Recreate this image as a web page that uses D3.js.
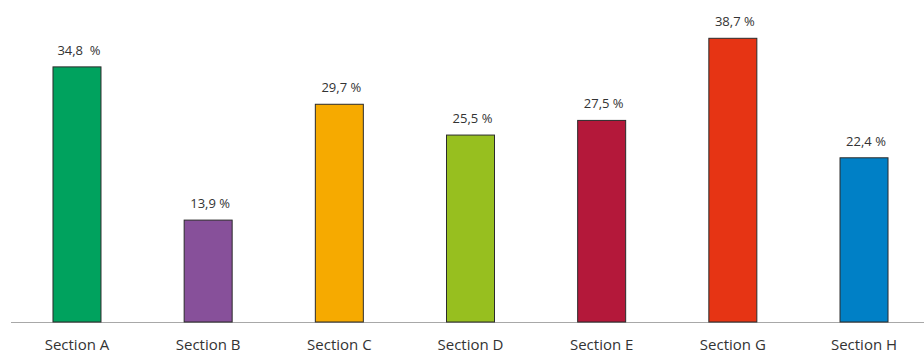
<!DOCTYPE html>
<html>
<head>
<meta charset="utf-8">
<script src="https://cdn.jsdelivr.net/npm/d3@7"></script>
<style>
  body { margin: 0; background: #fff; }
  text { font-family: "Open Sans", sans-serif; fill: #333; }
</style>
</head>
<body>
<div id="chart"></div>
<script>
// data
var sections = ["Section A", "Section B", "Section C", "Section D", "Section E", "Section G", "Section H"];
var values = [34.8, 13.9, 29.7, 25.5, 27.5, 38.7, 22.4];
var valueLabels = ["34,8  %", "13,9 %", "29,7 %", "25,5 %", "27,5 %", "38,7 %", "22,4 %"];
var colors = ["#00a25e", "#87509a", "#f6aa00", "#97bf1f", "#b4183a", "#e63414", "#0080c6"];

var width = 924, height = 354,
    baseY = 322,
    barW = 48;

var svg = d3.select("#chart").append("svg")
    .attr("width", width)
    .attr("height", height);

var step = (929.6 - 11.4) / sections.length,
    pad = 1 - barW / step;

var x = d3.scaleBand()
    .domain(sections)
    .range([11.4, 929.6])
    .paddingInner(pad)
    .paddingOuter(pad / 2);

var y = d3.scaleLinear()
    .domain([0, 38.7])
    .range([baseY, 38.3]);

var data = sections.map(function(s, i) {
  return {name: s, value: values[i], label: valueLabels[i], color: colors[i]};
});

// baseline
svg.append("line")
    .attr("x1", 11).attr("x2", width)
    .attr("y1", baseY + 0.5).attr("y2", baseY + 0.5)
    .style("stroke", "#a8a8a8")
    .style("stroke-width", 1.2);

// bars
svg.selectAll("rect.bar").data(data)
  .enter().append("rect")
    .attr("class", "bar")
    .attr("x", function(d) { return x(d.name); })
    .attr("y", function(d) { return y(d.value); })
    .attr("width", x.bandwidth())
    .attr("height", function(d) { return baseY - y(d.value); })
    .style("fill", function(d) { return d.color; })
    .style("stroke", "#2b2b2b")
    .style("stroke-width", 1);

// value labels
svg.selectAll("text.val").data(data)
  .enter().append("text")
    .attr("class", "val")
    .attr("x", function(d) { return x(d.name) + x.bandwidth() / 2 + 2; })
    .attr("y", function(d) { return y(d.value) - 12; })
    .attr("text-anchor", "middle")
    .style("font-size", "13px")
    .style("white-space", "pre")
    .text(function(d) { return d.label; });

// category labels (kept just inside the bottom edge)
svg.selectAll("text.cat").data(data)
  .enter().append("text")
    .attr("class", "cat")
    .attr("x", function(d) { return x(d.name) + x.bandwidth() / 2; })
    .attr("y", 349.5)
    .attr("text-anchor", "middle")
    .style("font-size", "15px")
    .text(function(d) { return d.name; });
</script>
</body>
</html>
